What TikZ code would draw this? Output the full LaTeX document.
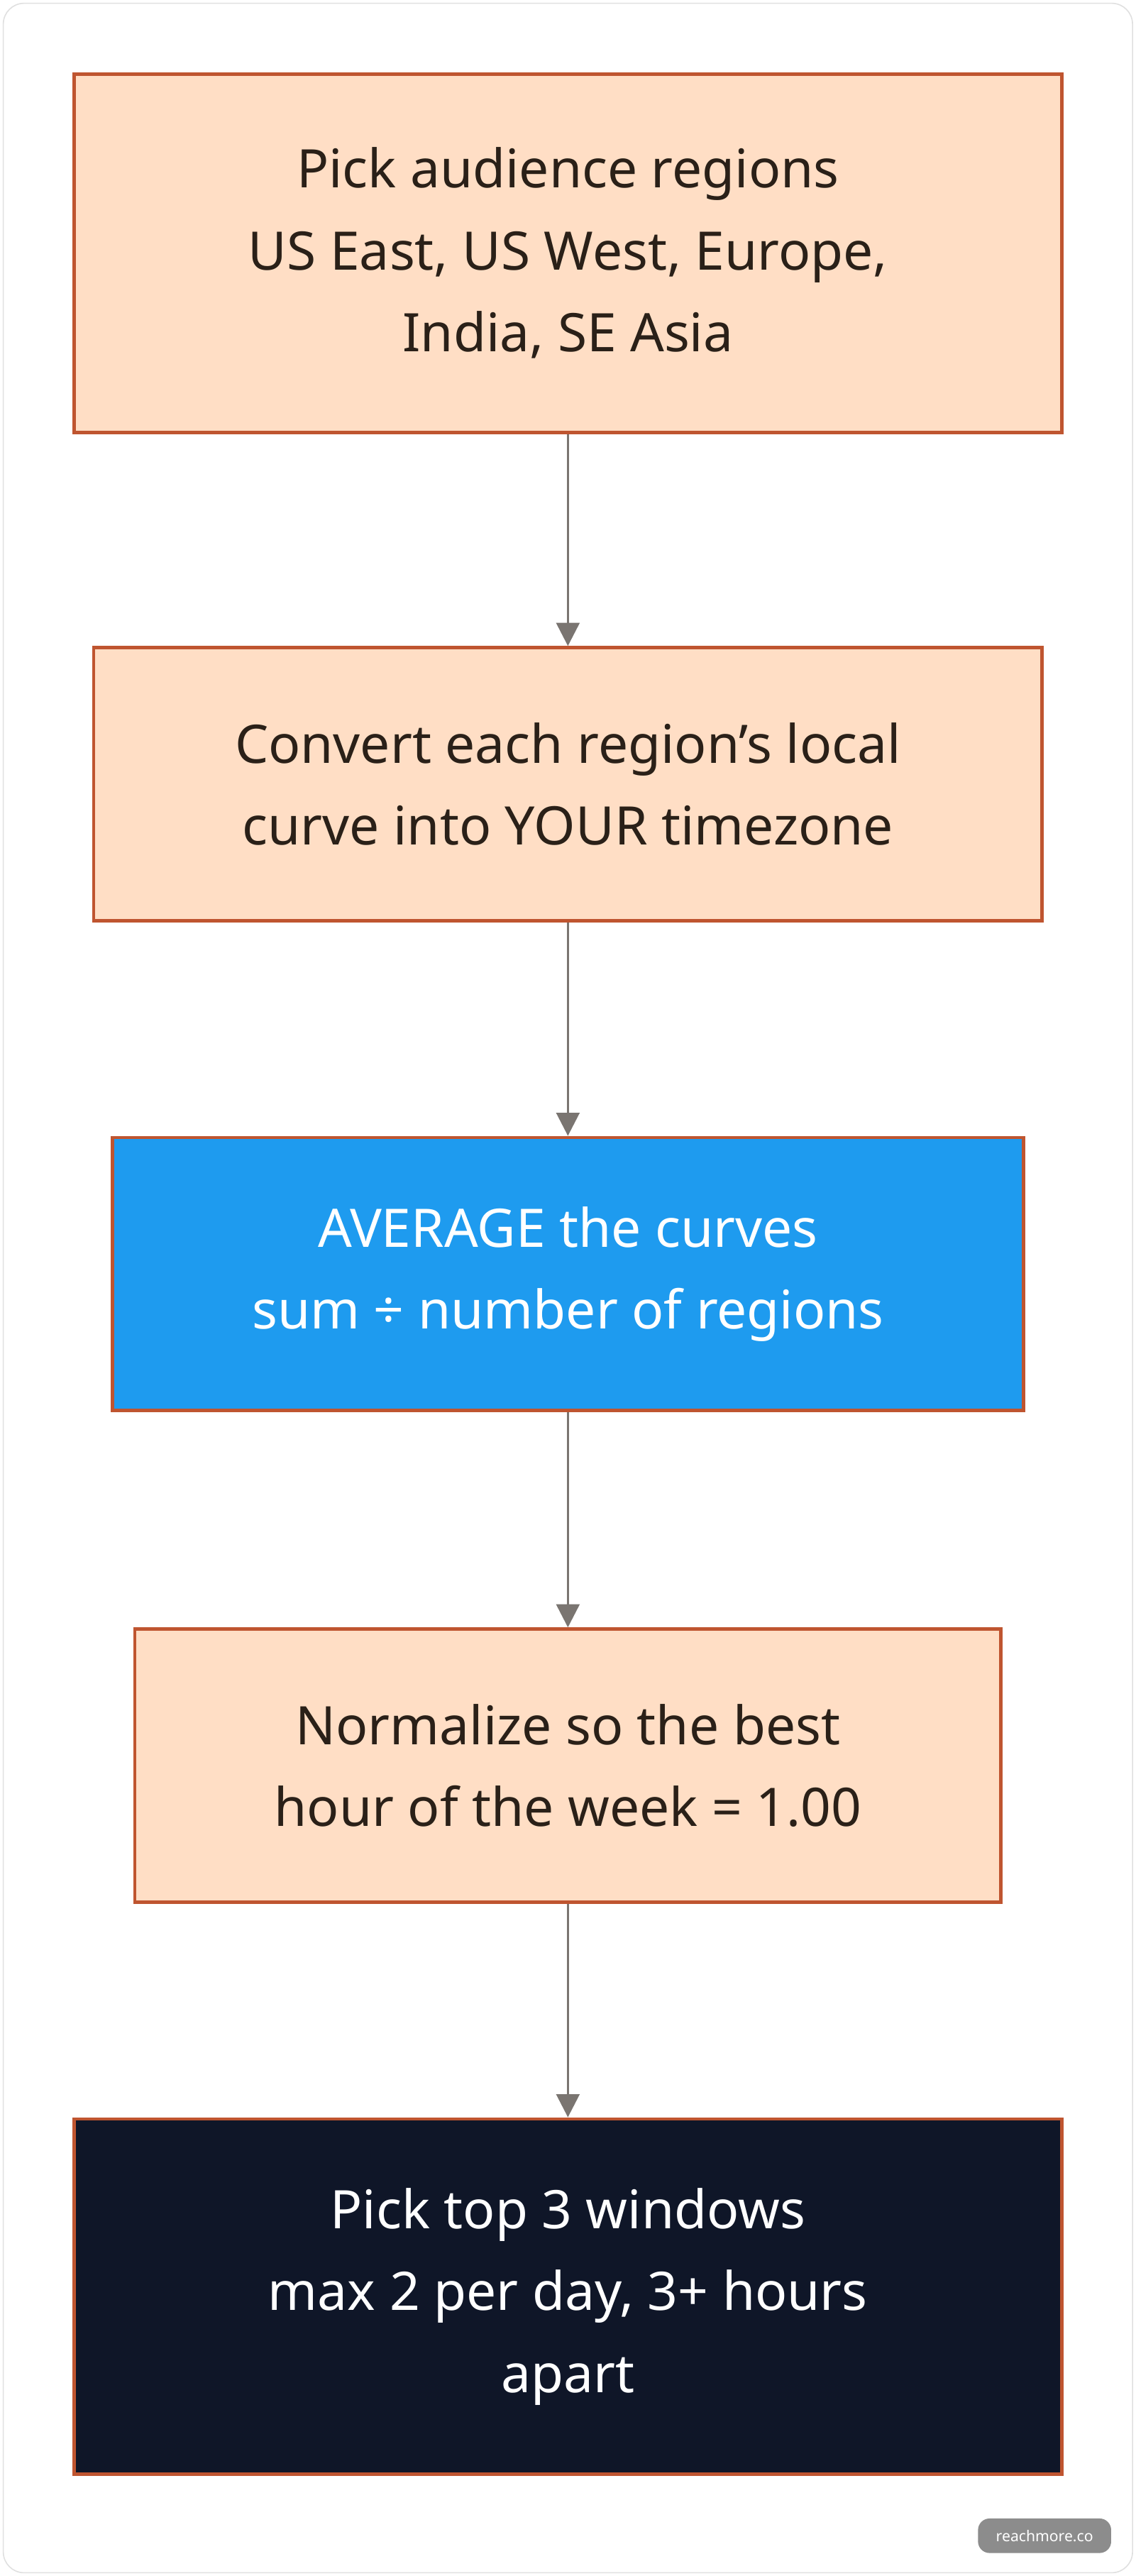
\documentclass[tikz,border=0pt]{standalone}
\usepackage{fontspec}
\setmainfont{Noto Sans}
\usetikzlibrary{arrows.meta}
\definecolor{peach}{HTML}{FFDEC5}
\definecolor{rust}{HTML}{BF5530}
\definecolor{bluef}{HTML}{1E9BEF}
\definecolor{navy}{HTML}{0F1628}
\definecolor{arr}{HTML}{7A7571}
\definecolor{txt}{HTML}{2A2018}
\begin{document}
\begin{tikzpicture}[x=0.05cm,y=-0.05cm,
 box/.style={draw=rust,line width=3pt,minimum height=0pt,inner sep=0pt,align=center,
   font=\fontsize{46}{71}\selectfont},
 lt/.style={box,fill=peach,text=txt},
 arrow/.style={draw=arr,line width=2.2pt,-{Triangle[length=20pt,width=20pt]}}]
\useasboundingbox (0,0) rectangle (691,1567);
\draw[draw=black!12,line width=1pt,rounded corners=18pt] (2,2) rectangle (689,1565);
\node[lt,minimum width=601*0.05cm,minimum height=218*0.05cm] (a) at (345.5,154) {Pick audience regions\\US East, US West, Europe,\\India, SE Asia};
\node[lt,minimum width=577*0.05cm,minimum height=166*0.05cm] (b) at (345.5,477) {Convert each region's local\\curve into YOUR timezone};
\node[box,fill=bluef,text=white,minimum width=554*0.05cm,minimum height=166*0.05cm] (c) at (345.5,775) {AVERAGE the curves\\sum ÷ number of regions};
\node[lt,minimum width=527*0.05cm,minimum height=166*0.05cm] (d) at (345.5,1074) {Normalize so the best\\hour of the week = 1.00};
\node[box,fill=navy,text=white,minimum width=601*0.05cm,minimum height=216*0.05cm] (e) at (345.5,1397) {Pick top 3 windows\\max 2 per day, 3+ hours\\apart};
\draw[arrow] (a) -- (b);
\draw[arrow] (b) -- (c);
\draw[arrow] (c) -- (d);
\draw[arrow] (d) -- (e);
\node[fill=black!45,text=white,rounded corners=10pt,minimum width=81*0.05cm,minimum height=21*0.05cm,inner sep=0pt,font=\fontsize{13}{15}\selectfont] (w) at (635.5,1542.5) {reachmore.co};
\end{tikzpicture}
\end{document}
